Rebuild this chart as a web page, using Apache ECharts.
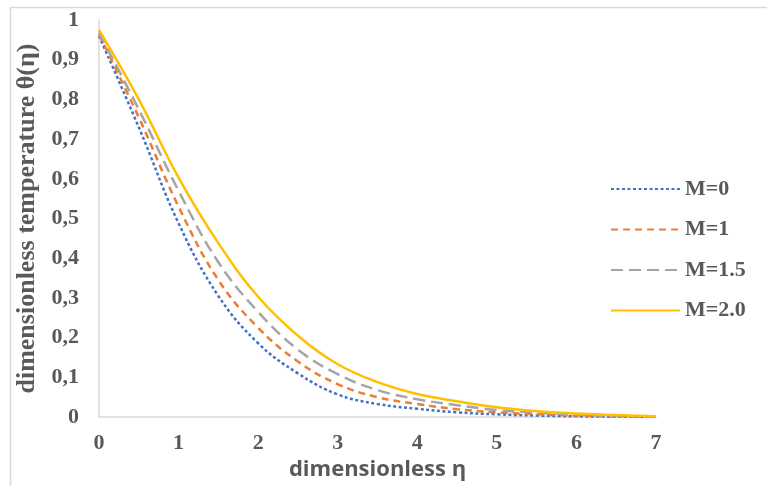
<!DOCTYPE html>
<html lang="en">
  <head>
    <meta charset="utf-8" />
    <title>Dimensionless temperature profiles</title>
    <script src="https://cdn.jsdelivr.net/npm/echarts@6/dist/echarts.min.js"></script>
    <style>
      * {
        margin: 0;
        padding: 0;
      }
      html,
      body,
      #chart {
        width: 767px;
        height: 486px;
        overflow: hidden;
        background: #fff;
      }
    </style>
  </head>
  <body>
    <div id="chart"></div>
    <script>
      // eta values (x axis)
      var eta = [0, 0.5, 1, 1.5, 2, 2.5, 3, 3.5, 4, 4.5, 5, 5.5, 6, 6.5, 7];

      // theta(eta) for each M
      var thetaM0 = [0.96, 0.73, 0.488, 0.305, 0.186, 0.11, 0.057, 0.033, 0.021, 0.012, 0.007, 0.004, 0.002, 0.001, 0];
      var thetaM1 = [0.964, 0.755, 0.53, 0.345, 0.225, 0.14, 0.083, 0.05, 0.033, 0.02, 0.012, 0.007, 0.004, 0.002, 0.001];
      var thetaM15 = [0.968, 0.775, 0.57, 0.39, 0.265, 0.17, 0.108, 0.068, 0.045, 0.03, 0.018, 0.011, 0.006, 0.003, 0.001];
      var thetaM2 = [0.975, 0.8, 0.603, 0.438, 0.303, 0.205, 0.133, 0.088, 0.058, 0.04, 0.025, 0.015, 0.009, 0.005, 0.002];

      var seriesNames = ["M=0", "M=1", "M=1.5", "M=2.0"];
      var colors = ["#4472C4", "#ED7D31", "#A5A5A5", "#FFC000"];

      function pairs(ys) {
        return eta.map(function (x, i) {
          return [x, ys[i]];
        });
      }

      var serif = "'Liberation Serif', 'DejaVu Serif', serif";
      var chart = echarts.init(document.getElementById("chart"));

      var dashes = [[3, 2.5], [7, 5], [12, 6], "solid"];
      var allData = [thetaM0, thetaM1, thetaM15, thetaM2];

      chart.setOption({
        animation: false,
        graphic: [
          {
            type: "rect",
            shape: { x: 10.5, y: 7.5, width: 800, height: 600 },
            style: { fill: "none", stroke: "#d9d9d9", lineWidth: 1.5 },
            silent: true,
          },
        ],
        grid: { left: 99, top: 20, right: 111, bottom: 67 },
        legend: {
          orient: "vertical",
          left: 605,
          top: 173,
          itemWidth: 69,
          itemHeight: 14,
          itemGap: 18.5,
          itemStyle: { opacity: 0 },
          textStyle: {
            fontFamily: serif,
            fontWeight: "bold",
            fontSize: 22,
            color: "#595959",
          },
          data: seriesNames,
        },
        xAxis: {
          type: "value",
          min: 0,
          max: 7,
          interval: 1,
          name: "dimensionless η",
          nameLocation: "middle",
          nameGap: 34,
          nameTextStyle: {
            fontFamily: "'Open Sans', 'Liberation Sans', sans-serif",
            fontWeight: "bold",
            fontSize: 22,
            color: "#595959",
          },
          axisLine: { lineStyle: { color: "#d9d9d9", width: 1.5 } },
          axisTick: { show: false },
          splitLine: { show: false },
          axisLabel: {
            margin: 15,
            fontFamily: serif,
            fontWeight: "bold",
            fontSize: 22,
            color: "#595959",
          },
        },
        yAxis: {
          type: "value",
          min: 0,
          max: 1,
          interval: 0.1,
          name: "dimensionless temperature θ(η)",
          nameLocation: "middle",
          nameGap: 57,
          nameTextStyle: {
            fontFamily: serif,
            fontWeight: "bold",
            fontSize: 26,
            color: "#595959",
          },
          axisLine: { show: true, lineStyle: { color: "#d9d9d9", width: 1.5 } },
          axisTick: { show: false },
          splitLine: { show: false },
          axisLabel: {
            margin: 20,
            fontFamily: serif,
            fontWeight: "bold",
            fontSize: 22,
            color: "#595959",
            formatter: function (v) {
              return String(Math.round(v * 10) / 10).replace(".", ",");
            },
          },
        },
        series: seriesNames.map(function (name, i) {
          return {
            name: name,
            type: "line",
            smooth: 0.4,
            showSymbol: false,
            symbol: "none",
            data: pairs(allData[i]),
            color: colors[i],
            lineStyle: {
              color: colors[i],
              width: 2.5,
              type: dashes[i],
            },
            z: 2 + i,
          };
        }),
      });
    </script>
  </body>
</html>
